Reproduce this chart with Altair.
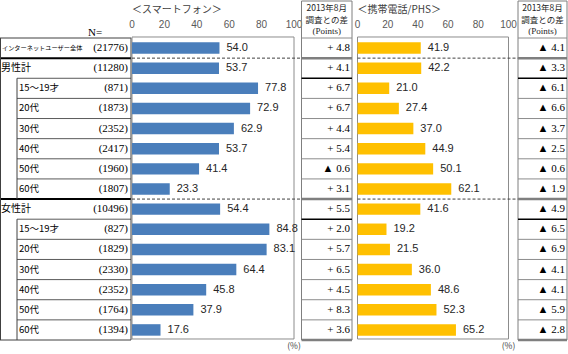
import altair as alt
import pandas as pd

categories = ["インターネットユーザー全体", "男性計", "15～19才", "20代", "30代", "40代", "50代", "60代",
              "女性計", "15～19才", "20代", "30代", "40代", "50代", "60代"]
sample_n = [21776, 11280, 871, 1873, 2352, 2417, 1960, 1807, 10496, 827, 1829, 2330, 2352, 1764, 1394]
smartphone = [54.0, 53.7, 77.8, 72.9, 62.9, 53.7, 41.4, 23.3, 54.4, 84.8, 83.1, 64.4, 45.8, 37.9, 17.6]
smartphone_diff = [4.8, 4.1, 6.7, 6.7, 4.4, 5.4, -0.6, 3.1, 5.5, 2.0, 5.7, 6.5, 4.5, 8.3, 3.6]
phone = [41.9, 42.2, 21.0, 27.4, 37.0, 44.9, 50.1, 62.1, 41.6, 19.2, 21.5, 36.0, 48.6, 52.3, 65.2]
phone_diff = [-4.1, -3.3, -6.1, -6.6, -3.7, -2.5, -0.6, -1.9, -4.9, -6.5, -6.9, -4.1, -4.1, -5.9, -2.8]
axis_ticks = [0, 20, 40, 60, 80, 100]
total_row = [0]
group_rows = [1, 8]

JP = "Noto Sans CJK JP"
SERIF = "Liberation Serif"
SANS = "Liberation Sans"
BLUE = "#4A7EBB"
GOLD = "#FFC000"


def fmt_diff(d):
    return ("▲ " if d < 0 else "+ ") + f"{abs(d):.1f}"


n = len(categories)
df = pd.DataFrame({
    "row": list(range(n)),
    "category": categories,
    "n_label": [f"({v})" for v in sample_n],
    "smart": smartphone,
    "smart_label": [f"{v:.1f}" for v in smartphone],
    "smart_diff": [fmt_diff(d) for d in smartphone_diff],
    "phone": phone,
    "phone_label": [f"{v:.1f}" for v in phone],
    "phone_diff": [fmt_diff(d) for d in phone_diff],
})
df["mid"] = df["row"] + 0.5
df["top"] = df["row"] + 0.5 - 0.285
df["bot"] = df["row"] + 0.5 + 0.285
df["kind"] = ["total" if r in total_row else ("group" if r in group_rows else "sub") for r in df["row"]]

Y = alt.Scale(domain=[0, 15], range=[38, 340], nice=False, zero=False)
XS = alt.Scale(domain=[0, 100], range=[132, 294], nice=False, zero=False)
XP = alt.Scale(domain=[0, 100], range=[357.5, 508.5], nice=False, zero=False)


def yf(field):
    return alt.Y(field, type="quantitative", scale=Y, axis=None)


def bar_panel(col, label_col, xs, color, title, dash_end):
    base = alt.Chart(df)
    frame = alt.Chart(pd.DataFrame({"a": [0], "b": [100], "t": [-0.05], "u": [14.95]})).mark_rect(
        fill="white", stroke="#8c8c8c", strokeWidth=1
    ).encode(x=alt.X("a:Q", scale=xs, axis=None), x2="b:Q", y=yf("t"), y2="u:Q")
    bars = base.mark_rect(color=color).encode(
        x=alt.X(f"{col}:Q", scale=xs, axis=None), x2=alt.datum(0), y=yf("top"), y2="bot:Q"
    )
    labels = base.mark_text(align="left", baseline="middle", dx=7, font=SANS, fontSize=11,
                            color="#262626").encode(
        x=alt.X(f"{col}:Q", scale=xs, axis=None), y=yf("mid"), text=f"{label_col}:N"
    )
    dashes = alt.Chart(pd.DataFrame({"b": [1, 8], "x0": [0, 0], "x1": [dash_end, dash_end]})).mark_rule(
        strokeDash=[3, 2], color="#404040", strokeWidth=1
    ).encode(x=alt.X("x0:Q", scale=xs, axis=None), x2="x1:Q", y=yf("b"))
    ticks = alt.Chart(pd.DataFrame({"t": axis_ticks})).mark_text(
        font=SANS, fontSize=10, color="#595959", baseline="middle"
    ).encode(x=alt.X("t:Q", scale=xs, axis=None), y=alt.value(25), text="t:Q")
    ttl = alt.Chart(pd.DataFrame({"x": [0], "s": [title]})).mark_text(
        align="left", baseline="middle", font=JP, fontSize=10, color="#404040"
    ).encode(x=alt.X("x:Q", scale=xs, axis=None), y=alt.value(10), text="s:N")
    pct = alt.Chart(pd.DataFrame({"x": [100], "s": ["(%)"]})).mark_text(
        baseline="middle", font=JP, fontSize=8.5, color="#404040"
    ).encode(x=alt.X("x:Q", scale=xs, axis=None), y=alt.value(346), text="s:N")
    return [frame, bars, labels, dashes, ticks, ttl, pct]


def hlines(bounds, x0, x1, color, width):
    return alt.Chart(pd.DataFrame({"b": bounds})).mark_rule(color=color, strokeWidth=width).encode(
        x=alt.value(x0), x2=alt.value(x1), y=yf("b")
    )


def vline(x, a, b, color="#404040", width=1):
    return alt.Chart(pd.DataFrame({"a": [a], "b": [b]})).mark_rule(color=color, strokeWidth=width).encode(
        x=alt.value(x), y=yf("a"), y2="b:Q"
    )


def diff_panel(x0, x1, col):
    layers = []
    layers.append(alt.Chart(pd.DataFrame({"k": [0]})).mark_rule(color="#7f7f7f").encode(
        x=alt.value(x0), x2=alt.value(x1), y=alt.value(1)))
    for xv in (x0, x1):
        layers.append(alt.Chart(pd.DataFrame({"k": [0]})).mark_rule(color="#7f7f7f").encode(
            x=alt.value(xv), y=alt.value(1), y2=alt.value(340)))
    layers.append(hlines([0, 3, 4, 5, 6, 7, 10, 11, 12, 13, 14], x0, x1, "#8c8c8c", 1))
    layers.append(hlines([1, 8, 15], x0, x1, "#7f7f7f", 2.5))
    layers.append(hlines([2, 9], x0, x1, "#000000", 1.5))
    cx = (x0 + x1) / 2
    hdr = pd.DataFrame({"s": ["2013年8月", "調査との差", "(Points)"], "y": [8, 20, 31]})
    for i, s in enumerate(hdr["s"]):
        layers.append(alt.Chart(pd.DataFrame({"s": [s]})).mark_text(
            font=SERIF if i == 2 else JP, fontSize=9 if i == 2 else 8.5, color="#262626", baseline="middle"
        ).encode(x=alt.value(cx), y=alt.value(int(hdr["y"][i])), text="s:N"))
    layers.append(alt.Chart(df).mark_text(align="right", baseline="middle", font=SERIF, fontSize=11,
                                          color="#000000").encode(
        x=alt.value(x1 - 2), y=yf("mid"), text=f"{col}:N"))
    return layers


# left label table
table = []
table.append(hlines([0, 15], 0, 131, "#404040", 1))
table.append(hlines([1, 8], 0, 131, "#000000", 2))
table.append(hlines([2, 3, 4, 5, 6, 7, 9, 10, 11, 12, 13, 14], 17, 131, "#595959", 1))
table.append(vline(0.5, 0, 15))
table.append(vline(131, 0, 15))
table.append(vline(17, 2, 8))
table.append(vline(17, 9, 15))
table.append(alt.Chart(df).transform_filter("datum.kind == 'total'").mark_text(
    align="left", baseline="middle", font=JP, fontSize=6.2, color="#000000"
).encode(x=alt.value(2), y=yf("mid"), text="category:N"))
table.append(alt.Chart(df).transform_filter("datum.kind == 'group'").mark_text(
    align="left", baseline="middle", font=JP, fontSize=10, color="#000000"
).encode(x=alt.value(1), y=yf("mid"), text="category:N"))
table.append(alt.Chart(df).transform_filter("datum.kind == 'sub'").mark_text(
    align="left", baseline="middle", font=JP, fontSize=9.5, color="#000000"
).encode(x=alt.value(19), y=yf("mid"), text="category:N"))
table.append(alt.Chart(df).mark_text(
    align="right", baseline="middle", font=SERIF, fontSize=11, color="#000000"
).encode(x=alt.value(128), y=yf("mid"), text="n_label:N"))
table.append(alt.Chart(pd.DataFrame({"s": ["N="]})).mark_text(
    align="left", baseline="middle", font=SERIF, fontSize=11, color="#000000"
).encode(x=alt.value(88), y=alt.value(33), text="s:N"))

layers = (table
          + bar_panel("smart", "smart_label", XS, BLUE, "＜スマートフォン＞", 104.3)
          + diff_panel(301.5, 352, "smart_diff")
          + bar_panel("phone", "phone_label", XP, GOLD, "＜携帯電話/PHS＞", 106.3)
          + diff_panel(518, 567, "phone_diff"))

chart = alt.layer(*layers).resolve_scale(x="independent", y="independent").properties(
    width=568, height=354, autosize="none", padding=0, background="white"
).configure_view(stroke=None)

chart.save("out.html", embed_options={"renderer": "svg", "actions": False})
